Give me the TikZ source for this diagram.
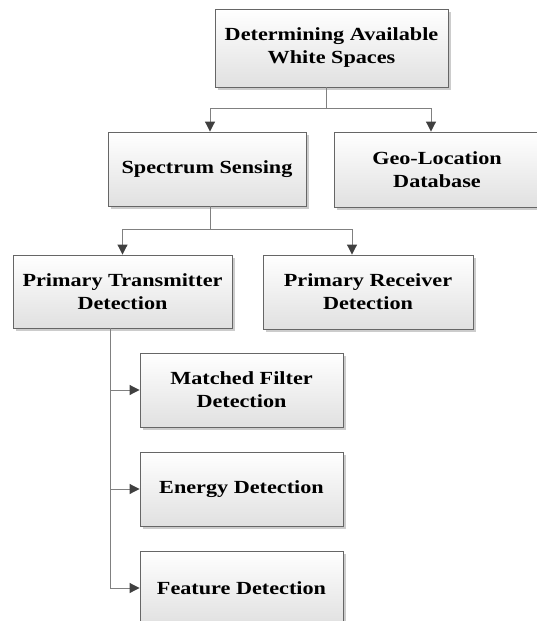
\documentclass[tikz,border=0pt]{standalone}
\usepackage{fontspec}
\setmainfont{Liberation Serif}[FakeStretch=1.2]
\usetikzlibrary{arrows.meta,shadows}
\begin{document}
\begin{tikzpicture}[x=1pt,y=1pt,
  box/.style={draw=black!60, line width=0.9pt, top color=white, bottom color=black!12,
    drop shadow={shadow xshift=2.5pt, shadow yshift=-2.5pt, fill=black!25, opacity=0.8},
    align=center, inner sep=0pt,
    font=\fontsize{18.5}{23}\selectfont\bfseries},
  link/.style={draw=black!50, line width=1pt},
  arr/.style={link, -{Triangle[length=10pt,width=10pt,color=black!75]}}]
\useasboundingbox (0,0) rectangle (537,-621);

% boxes
\node[box, minimum width=233pt, minimum height=78pt] (top) at (331.5,-48) {Determining Available\\White Spaces};
\node[box, minimum width=198pt, minimum height=74pt] (spec) at (207,-169) {Spectrum Sensing};
\node[box, minimum width=206pt, minimum height=75pt] (geo) at (437,-169.5) {Geo-Location\\Database};
\node[box, minimum width=219pt, minimum height=73pt] (trans) at (122.5,-291.5) {Primary Transmitter\\Detection};
\node[box, minimum width=210pt, minimum height=74pt] (recv) at (368,-292) {Primary Receiver\\Detection};
\node[box, minimum width=203pt, minimum height=74pt] (mf) at (241.5,-390) {Matched Filter\\Detection};
\node[box, minimum width=203pt, minimum height=74pt] (en) at (241.5,-489) {Energy Detection};
\node[box, minimum width=203pt, minimum height=74pt] (fd) at (241.5,-588) {Feature Detection};

% first split
\coordinate (j1) at ([xshift=-5.5pt,yshift=-21pt]top.south);
\draw[link] ([xshift=-5.5pt]top.south) -- (j1);
\draw[arr] (j1) -| ([xshift=3pt]spec.north);
\draw[arr] (j1) -| ([xshift=-6pt]geo.north);

% second split
\coordinate (j2) at ([xshift=3pt,yshift=-23pt]spec.south);
\draw[link] ([xshift=3pt]spec.south) -- (j2);
\draw[arr] (j2) -| (trans.north);
\draw[arr] (j2) -| ([xshift=-16pt]recv.north);

% detection methods
\coordinate (t0) at ([xshift=-12.5pt]trans.south);
\draw[arr] (t0) |- (mf.west);
\draw[arr] (t0) |- (en.west);
\draw[arr] (t0) |- (fd.west);
\end{tikzpicture}
\end{document}
